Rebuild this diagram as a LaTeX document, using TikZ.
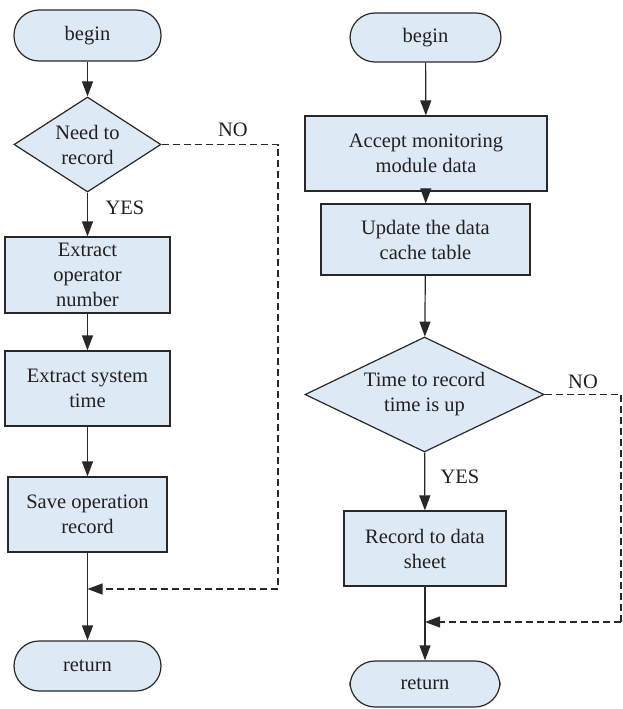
\documentclass[tikz,border=0pt]{standalone}
\usepackage{fontspec}
\setmainfont{Liberation Serif}
\usetikzlibrary{shapes.geometric,arrows.meta}
\definecolor{boxfill}{RGB}{221,234,245}
\definecolor{linecol}{RGB}{40,40,40}
\definecolor{txtcol}{RGB}{35,31,32}
\begin{document}
\begin{tikzpicture}[x=1pt,y=-1pt,
  every node/.style={font=\fontsize{20.5}{25}\selectfont, text=txtcol},
  term/.style={draw=linecol, fill=boxfill, line width=1.2pt, rectangle, rounded corners=25pt, align=center, inner sep=0pt},
  proc/.style={draw=linecol, fill=boxfill, line width=1.2pt, rectangle, align=center, inner sep=0pt},
  dec/.style={draw=linecol, fill=boxfill, line width=1.2pt, diamond, align=center, inner sep=0pt},
  arr/.style={draw=linecol, line width=1.2pt, -{Triangle[length=15pt,width=11pt]}},
  dashline/.style={draw=linecol, line width=1.2pt, dash pattern=on 7pt off 4pt},
  dasharr/.style={dashline, -{Triangle[length=15pt,width=11pt]}},
  lbl/.style={inner sep=0pt}]
\useasboundingbox (0,0) rectangle (623,709);
% left column
\node[term, minimum width=147pt, minimum height=51pt] (b1) at (87.5,35.5) {begin};
\node[dec, aspect=1.55, minimum width=147pt, minimum height=95pt] (d1) at (87.5,144.5) {Need to\\record};
\node[proc, minimum width=165pt, minimum height=76pt] (p1) at (87.5,275) {Extract\\operator\\number};
\node[proc, minimum width=165pt, minimum height=75pt] (p2) at (87.5,388.5) {Extract system\\time};
\node[proc, minimum width=159pt, minimum height=75pt] (p3) at (87.5,514.5) {Save operation\\record};
\node[term, minimum width=147pt, minimum height=50pt] (r1) at (87.5,666) {return};
\node[lbl] (yes1) at (125,208) {YES};
\node[lbl] (no1) at (233,130) {NO};
\coordinate (c1) at (278,589);
\coordinate (m1) at (87.5,589);
\draw[arr] (b1) -- (d1);
\draw[arr] (d1) -- (p1);
\draw[arr] (p1) -- (p2);
\draw[arr] (p2) -- (p3);
\draw[arr] (p3) -- (r1);
\draw[dashline] (d1.east) -| (c1);
\draw[dasharr] (c1) -- (m1);
% right column
\node[term, minimum width=151pt, minimum height=49pt] (b2) at (425.5,37.5) {begin};
\node[proc, minimum width=242pt, minimum height=75pt] (q1) at (426,153.5) {Accept monitoring\\module data};
\node[proc, minimum width=209pt, minimum height=71pt] (q2) at (425.5,239.5) {Update the data\\cache table};
\node[dec, aspect=2.08, minimum width=239pt, minimum height=115pt] (d2) at (424.5,394.5) {Time to record\\time is up};
\node[proc, minimum width=162pt, minimum height=75pt] (q3) at (425,548.5) {Record to data\\sheet};
\node[term, minimum width=150pt, minimum height=46pt] (r2) at (425,684) {return};
\node[lbl] (yes2) at (460,477) {YES};
\node[lbl] (no2) at (583,382) {NO};
\coordinate (c2) at (621,622);
\coordinate (m2) at (425,622);
\draw[arr] (b2) -- (q1);
\draw[arr] (q1) -- (q2);
\draw[arr] (q2) -- (d2);
\draw[arr] (d2) -- (q3);
\draw[arr] (q3) -- (r2);
\draw[dashline] (d2.east) -| (c2);
\draw[dasharr] (c2) -- (m2);
\end{tikzpicture}
\end{document}
